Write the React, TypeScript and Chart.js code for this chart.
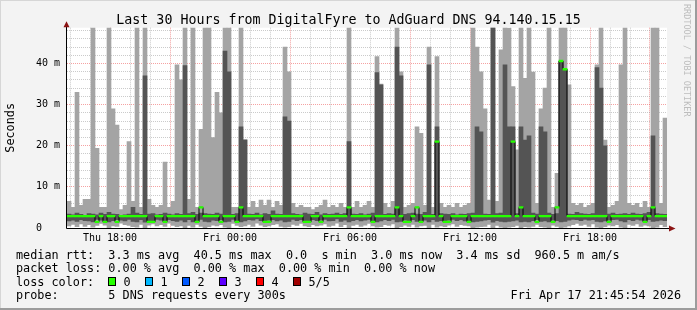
import React, { useEffect, useRef } from 'react';
import { Chart, registerables } from 'chart.js';

Chart.register(...registerables);

// ---------- data ----------
// time axis: hours since Thu 00:00; one sample per 12 minutes
const START_HOUR = 15.85; // Thu 15:51
const END_HOUR = 45.85; // Fri 21:51
const STEP_HOURS = 0.2;

const tickHours = [18, 24, 30, 36, 42];
const tickLabels = ['Thu 18:00', 'Fri 00:00', 'Fri 06:00', 'Fri 12:00', 'Fri 18:00'];
const yTickValues = [0, 10, 20, 30, 40];
const yTickLabels = ['0   ', '10 m', '20 m', '30 m', '40 m'];
const Y_MAX = 48.7;

// highest of the 5 pings (ms)
const maxPing = [
  6.5, 5, 33, 5.5, 7, 7, 49, 19.4, 5, 5,
  49, 29, 25, 4.5, 5.5, 21, 6.5, 49, 5, 49,
  7, 5.5, 5, 5.5, 16, 5, 6.5, 39.7, 36, 49,
  7, 49, 5, 24, 49, 49, 22, 33, 28, 49,
  49, 5, 5, 49, 21.5, 5, 6.5, 5, 6.8, 5.5,
  6.8, 5, 6.5, 5.5, 44, 38, 6, 5, 5.5, 5,
  5, 4.5, 5, 5.5, 6.8, 5, 5.5, 5, 6, 5,
  49, 5, 6.5, 5, 5.5, 6.5, 5, 41.7, 35, 6,
  5, 6.5, 49, 38, 5, 5.5, 6, 24.6, 23, 5.5,
  44, 5, 41.7, 6, 5, 5.5, 5, 6, 5, 5.5,
  6, 49, 44, 38, 29, 6.8, 49, 6.5, 43.3, 49,
  48.6, 34.4, 19, 49, 36.4, 49, 37.9, 6, 29, 34,
  49, 5, 13.3, 49, 49, 34.8, 6, 5.5, 6, 5,
  5.5, 6, 39.7, 49, 21.4, 5, 5.5, 6.5, 39.7, 49,
  6, 5.5, 6, 5, 6.5, 5, 49, 49, 6, 26.7,
];

// lowest of the 5 pings (ms)
const minPing = [
  0.5, 0.9, 0.3, 1.0, 0.4, 0.8, 0.2, 0.6, 1.1, 0.7,
  0.1, 0.5, 0.4, 1.2, 0.8, 0.6, 0.3, 0.2, 0.9, 0.1,
  0.7, 1.0, 0.5, 0.8, 0.4, 1.2, 0.6, 0.3, 0.5, 0.1,
  0.6, 0.2, 0.9, 0.4, 0.1, 0.3, 0.7, 0.5, 0.8, 0.2,
  0.1, 1.1, 0.6, 0.3, 0.5, 0.9, 0.4, 1.2, 0.7, 0.3,
  0.5, 0.8, 1.0, 0.4, 0.2, 0.3, 0.9, 0.6, 1.1, 0.5,
  0.3, 0.8, 0.5, 0.7, 1.0, 0.4, 0.6, 1.2, 0.3, 0.8,
  0.1, 0.6, 0.9, 0.4, 0.7, 1.1, 0.5, 0.2, 0.3, 0.8,
  0.6, 1.0, 0.1, 0.3, 0.7, 0.4, 0.9, 0.2, 0.5, 0.6,
  0.1, 0.9, 0.2, 0.5, 0.3, 0.7, 1.0, 0.4, 0.8, 0.6,
  0.5, 0.1, 0.2, 0.3, 0.4, 0.9, 0.1, 0.6, 0.2, 0.1,
  0.2, 0.3, 0.6, 0.1, 0.3, 0.2, 0.4, 0.9, 0.3, 0.2,
  0.1, 0.7, 0.4, 0.1, 0.2, 0.5, 0.8, 1.1, 0.6, 0.9,
  0.4, 1.0, 0.2, 0.1, 0.3, 0.7, 0.5, 0.8, 0.2, 0.1,
  0.9, 0.6, 1.0, 0.4, 0.7, 0.5, 0.1, 0.2, 0.8, 0.3,
];

// 4th ping (top of the dark smoke)
const upperPing = [
  3.4, 3.2, 3.6, 3.3, 3.1, 3.5, 3.4, 3.2, 3.6, 3.3,
  3.8, 3.4, 3.3, 3.0, 3.2, 3.4, 5.0, 3.6, 3.3, 37,
  3.4, 3.5, 3.2, 3.3, 3.6, 3.4, 3.2, 3.5, 3.3, 39.5,
  3.5, 3.8, 3.3, 3.6, 3.5, 3.4, 3.3, 3.6, 3.4, 43,
  38, 3.3, 3.5, 24.6, 21.4, 3.4, 3.3, 3.6, 3.2, 3.5,
  3.3, 4.2, 3.4, 3.3, 27, 26, 3.5, 3.3, 3.2, 3.6,
  3.4, 3.3, 3.8, 3.2, 3.5, 3.3, 3.4, 3.6, 3.3, 3.5,
  21, 3.4, 3.3, 3.5, 3.2, 3.4, 3.6, 37.8, 34.8, 3.3,
  3.5, 3.4, 44, 37, 3.3, 3.5, 3.6, 3.4, 3.3, 3.8,
  39.7, 3.3, 24.6, 3.5, 3.4, 3.3, 3.5, 3.2, 3.4, 3.3,
  3.5, 3.6, 24.6, 23.4, 3.4, 3.3, 49, 3.5, 3.6, 39.7,
  24.6, 24.6, 3.5, 24.6, 21.4, 22.4, 3.6, 3.4, 24.6, 23.4,
  3.6, 3.3, 3.5, 40.6, 38.6, 3.4, 3.3, 3.8, 3.5, 3.4,
  3.3, 3.5, 39, 34, 20, 3.4, 3.6, 3.3, 3.4, 3.5,
  3.3, 3.6, 3.4, 3.3, 3.5, 3.8, 22.4, 3.5, 3.4, 3.3,
];

// 2nd ping (bottom of the dark smoke)
const lowerPing = [
  1.7, 1.9, 1.6, 2.0, 1.8, 1.7, 1.5, 2.1, 1.9, 1.6,
  1.5, 1.8, 2.0, 1.9, 1.7, 2.1, 1.6, 1.5, 2.0, 1.4,
  1.8, 1.6, 2.1, 1.9, 1.7, 2.0, 1.8, 1.6, 1.9, 1.5,
  2.0, 1.5, 1.7, 2.1, 1.6, 1.5, 1.9, 1.8, 2.0, 1.5,
  1.6, 2.1, 1.8, 1.5, 1.7, 2.0, 1.9, 2.2, 1.8, 1.6,
  1.9, 2.0, 1.7, 1.9, 1.5, 1.6, 2.1, 1.8, 2.0, 1.7,
  1.6, 2.0, 1.8, 1.9, 2.1, 1.7, 1.8, 2.2, 1.6, 1.9,
  1.5, 1.8, 2.0, 1.7, 1.9, 2.1, 1.6, 1.5, 1.7, 2.0,
  1.8, 2.1, 1.5, 1.6, 1.9, 1.7, 2.0, 1.6, 1.8, 1.9,
  1.5, 2.0, 1.6, 1.8, 1.7, 1.9, 2.1, 1.8, 2.0, 1.7,
  1.8, 1.5, 1.6, 1.7, 1.9, 2.0, 1.4, 1.8, 1.6, 1.5,
  1.6, 1.7, 1.9, 1.5, 1.6, 1.5, 1.8, 2.0, 1.6, 1.7,
  1.5, 1.9, 1.8, 1.5, 1.6, 1.9, 2.1, 2.0, 1.8, 2.1,
  1.9, 2.0, 1.6, 1.5, 1.7, 1.9, 2.0, 2.1, 1.7, 1.5,
  2.0, 1.8, 2.1, 1.9, 1.8, 2.0, 1.6, 1.7, 1.9, 1.8,
];

// median rtt (ms)
const medianPing = [
  2.9, 2.9, 2.9, 2.9, 2.9, 2.9, 2.9, 1.5, 2.9, 1.5,
  2.9, 2.9, 1.5, 2.9, 2.9, 2.9, 2.9, 2.9, 2.9, 2.9,
  1.5, 1.5, 2.9, 2.9, 1.5, 2.9, 2.9, 2.9, 2.9, 2.9,
  2.9, 2.9, 1.5, 5, 2.9, 2.9, 2.9, 2.9, 1.5, 2.9,
  2.9, 2.9, 1.5, 5, 2.9, 2.9, 2.9, 2.9, 2.9, 1.5,
  1.5, 2.9, 2.9, 2.9, 2.9, 2.9, 2.9, 2.9, 2.9, 1.5,
  1.5, 2.9, 2.9, 1.5, 2.9, 2.9, 2.9, 2.9, 2.9, 2.9,
  5, 2.9, 2.9, 2.9, 2.9, 2.9, 1.5, 2.9, 2.9, 2.9,
  2.9, 2.9, 5, 2.9, 1.5, 1.5, 2.9, 5, 1.5, 2.9,
  2.9, 2.9, 21, 2.9, 1.5, 1.5, 2.9, 2.9, 2.9, 2.9,
  1.5, 2.9, 2.9, 2.9, 2.9, 2.9, 2.9, 2.9, 2.9, 2.9,
  2.9, 21, 2.9, 5, 2.9, 2.9, 2.9, 1.5, 2.9, 2.9,
  2.9, 1.5, 5, 40.6, 38.6, 2.9, 2.9, 2.9, 2.9, 2.9,
  2.9, 2.9, 2.9, 2.9, 2.9, 1.5, 2.9, 2.9, 2.9, 2.9,
  2.9, 2.9, 2.9, 2.9, 1.5, 2.9, 5, 2.9, 2.9, 2.9,
];

const TITLE = 'Last 30 Hours from DigitalFyre to AdGuard DNS 94.140.15.15';
const Y_TITLE = 'Seconds';
const legendRows = [
  'median rtt:  3.3 ms avg  40.5 ms max  0.0  s min  3.0 ms now  3.4 ms sd  960.5 m am/s',
  'packet loss: 0.00 % avg  0.00 % max  0.00 % min  0.00 % now',
  'loss color:',
  'probe:       5 DNS requests every 300s',
];
const lossLabels = ['0', '1', '2', '3', '4', '5/5'];
const lossColors = ['#26ff00', '#00b8ff', '#0059ff', '#5e00ff', '#ff0000', '#a00000'];
const DATE_TEXT = 'Fri Apr 17 21:45:54 2026';
const CREDIT = 'RRDTOOL / TOBI OETIKER';

// ---------- styles ----------
const MONO = '"DejaVu Sans Mono", monospace';
const LIGHT_SMOKE = '#a4a4a4';
const DARK_SMOKE = '#545454';
const MINOR_GRID = 'rgba(140,140,140,0.45)';
const MAJOR_GRID = 'rgba(235,70,70,0.5)';
const ARROW = '#8c1414';
const MEDIAN_HALF = 0.2;

export default function App() {
  const ref = useRef<HTMLCanvasElement>(null);

  useEffect(() => {
    document.body.style.margin = '0';
    const canvas = ref.current;
    if (!canvas) return;

    const xs = medianPing.map((_, i) => START_HOUR + STEP_HOURS * (i + 0.5));

    const decor = {
      id: 'decor',
      beforeDraw(chart: any) {
        const { ctx, chartArea: a, width, height } = chart;
        ctx.save();
        ctx.fillStyle = '#f3f3f3';
        ctx.fillRect(0, 0, width, height);
        ctx.fillStyle = '#d6d6d6';
        ctx.fillRect(0, 0, width, 1);
        ctx.fillRect(0, 0, 1, height);
        ctx.fillStyle = '#9c9c9c';
        ctx.fillRect(width - 2, 0, 2, height);
        ctx.fillRect(0, height - 2, width, 2);
        ctx.fillStyle = '#ffffff';
        ctx.fillRect(a.left, a.top, a.right - a.left, a.bottom - a.top);
        ctx.restore();
      },
      afterDraw(chart: any) {
        const { ctx, chartArea: a } = chart;
        ctx.save();
        // axes
        ctx.strokeStyle = '#000';
        ctx.lineWidth = 1;
        ctx.beginPath();
        ctx.moveTo(a.left - 0.5, a.bottom + 0.5);
        ctx.lineTo(a.right + 2, a.bottom + 0.5);
        ctx.moveTo(a.left - 0.5, a.bottom + 0.5);
        ctx.lineTo(a.left - 0.5, a.top - 1);
        ctx.stroke();
        ctx.fillStyle = ARROW;
        ctx.beginPath();
        ctx.moveTo(a.left - 0.5, a.top - 6.5);
        ctx.lineTo(a.left - 3.5, a.top - 0.5);
        ctx.lineTo(a.left + 2.5, a.top - 0.5);
        ctx.closePath();
        ctx.fill();
        ctx.beginPath();
        ctx.moveTo(a.right + 8.5, a.bottom + 0.5);
        ctx.lineTo(a.right + 2, a.bottom - 2.5);
        ctx.lineTo(a.right + 2, a.bottom + 3.5);
        ctx.closePath();
        ctx.fill();

        // title
        ctx.fillStyle = '#000';
        ctx.font = `13.3px ${MONO}`;
        ctx.textAlign = 'center';
        ctx.textBaseline = 'alphabetic';
        ctx.fillText(TITLE, 348.5, 23.5);

        // y title
        ctx.save();
        ctx.font = `11.8px ${MONO}`;
        ctx.translate(14, (a.top + a.bottom) / 2);
        ctx.rotate(-Math.PI / 2);
        ctx.textAlign = 'center';
        ctx.textBaseline = 'alphabetic';
        ctx.fillText(Y_TITLE, 0, 0);
        ctx.restore();

        // legend
        ctx.font = `11.8px ${MONO}`;
        ctx.textAlign = 'left';
        ctx.textBaseline = 'alphabetic';
        const rowY = [258.5, 272, 285.5, 299];
        legendRows.forEach((t, i) => ctx.fillText(t, 16, rowY[i]));
        lossLabels.forEach((lab, k) => {
          const bx = 108 + 37 * k;
          ctx.fillStyle = lossColors[k];
          ctx.fillRect(bx, rowY[2] - 8.5, 8, 9);
          ctx.strokeStyle = '#000';
          ctx.strokeRect(bx + 0.5, rowY[2] - 8, 7, 8);
          ctx.fillStyle = '#000';
          ctx.fillText(lab, bx + 15.5, rowY[2]);
        });
        ctx.textAlign = 'right';
        ctx.fillText(DATE_TEXT, 681, rowY[3]);

        // credit
        ctx.save();
        ctx.translate(684, 4);
        ctx.rotate(Math.PI / 2);
        ctx.font = `8.5px ${MONO}`;
        ctx.fillStyle = '#bdbdbd';
        ctx.textAlign = 'left';
        ctx.textBaseline = 'alphabetic';
        ctx.fillText(CREDIT, 0, 0);
        ctx.restore();
        ctx.restore();
      },
    };

    const chart = new Chart(canvas, {
      type: 'bar',
      data: {
        datasets: [
          {
            type: 'bar',
            label: 'median',
            data: medianPing.map((m, i) => ({ x: xs[i], y: [m - MEDIAN_HALF, m + MEDIAN_HALF] })) as any,
            backgroundColor: '#26ff00',
            grouped: false,
            barPercentage: 1,
            categoryPercentage: 1,
            borderWidth: 0,
            order: 0,
          } as any,
          {
            type: 'line',
            label: 'median line',
            data: medianPing.map((m, i) => ({ x: xs[i], y: m })),
            borderColor: '#000',
            borderWidth: 1,
            pointRadius: 0,
            stepped: 'middle',
            order: 1,
          } as any,
          {
            type: 'bar',
            label: 'inner smoke',
            data: lowerPing.map((v, i) => ({ x: xs[i], y: [v, upperPing[i]] })) as any,
            backgroundColor: DARK_SMOKE,
            grouped: false,
            barPercentage: 1,
            categoryPercentage: 1,
            borderWidth: 0,
            order: 2,
          } as any,
          {
            type: 'bar',
            label: 'outer smoke',
            data: minPing.map((v, i) => ({ x: xs[i], y: [v, maxPing[i]] })) as any,
            backgroundColor: LIGHT_SMOKE,
            grouped: false,
            barPercentage: 1,
            categoryPercentage: 1,
            borderWidth: 0,
            order: 3,
          } as any,
        ],
      },
      options: {
        animation: false,
        responsive: false,
        devicePixelRatio: 1,
        layout: { padding: { top: 27.7, right: 30, bottom: 0, left: 0 } },
        plugins: { legend: { display: false }, tooltip: { enabled: false }, title: { display: false } },
        scales: {
          x: {
            type: 'linear',
            min: START_HOUR,
            max: END_HOUR,
            offset: false,
            z: 1,
            afterBuildTicks: (s: any) => {
              const t: any[] = [];
              for (let h = Math.ceil(START_HOUR); h <= END_HOUR; h++) t.push({ value: h });
              s.ticks = t;
            },
            afterFit: (s: any) => { s.height = 82; },
            grid: {
              offset: false,
              drawTicks: false,
              lineWidth: 1,
              color: (c: any) => (c.tick && c.tick.value % 3 === 0 ? MAJOR_GRID : MINOR_GRID),
            },
            border: { display: false, dash: [1, 1] },
            ticks: {
              autoSkip: false,
              maxRotation: 0,
              padding: 4,
              color: '#000',
              font: { family: MONO, size: 10 },
              callback: (v: any) => {
                const k = tickHours.indexOf(Number(v));
                return k >= 0 ? tickLabels[k] : '';
              },
            },
          } as any,
          y: {
            type: 'linear',
            min: 0,
            max: Y_MAX,
            z: 1,
            afterBuildTicks: (s: any) => {
              const t: any[] = [];
              for (let v = 0; v <= Y_MAX; v += 2) t.push({ value: v });
              s.ticks = t;
            },
            afterFit: (s: any) => { s.width = 67; },
            grid: {
              drawTicks: false,
              lineWidth: 1,
              color: (c: any) => (c.tick && c.tick.value % 10 === 0 ? MAJOR_GRID : MINOR_GRID),
            },
            border: { display: false, dash: [1, 1] },
            ticks: {
              autoSkip: false,
              padding: 7,
              color: '#000',
              font: { family: MONO, size: 10 },
              callback: (v: any) => {
                const k = yTickValues.indexOf(Number(v));
                return k >= 0 ? yTickLabels[k] : '';
              },
            },
          } as any,
        },
      },
      plugins: [decor],
    } as any);

    return () => chart.destroy();
  }, []);

  return (
    <div style={{ width: 697, height: 310 }}>
      <canvas ref={ref} width={697} height={310} style={{ display: 'block', width: 697, height: 310 }} />
    </div>
  );
}
